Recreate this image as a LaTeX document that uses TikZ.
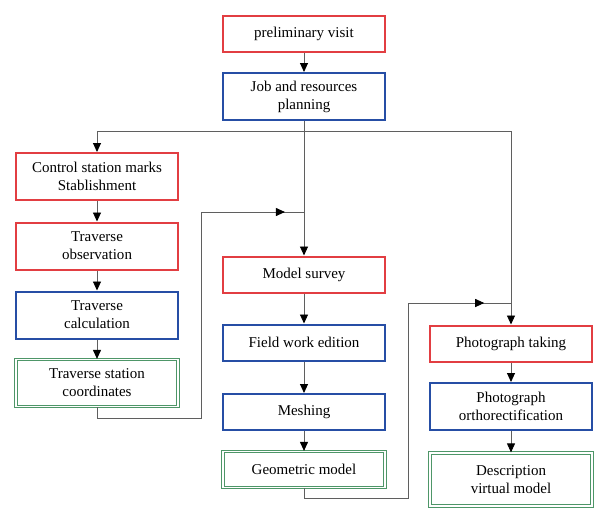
\documentclass[tikz,border=0pt]{standalone}
\usepackage{fontspec}
\setmainfont{Liberation Serif}
\usetikzlibrary{arrows.meta, positioning, decorations.markings}

\definecolor{boxred}{RGB}{226,62,66}
\definecolor{boxblue}{RGB}{38,78,165}
\definecolor{boxgreen}{RGB}{78,150,104}
\definecolor{linegray}{RGB}{95,95,95}

\begin{document}
\begin{tikzpicture}[x=1pt, y=-1pt]
	\tikzstyle{task} = [rectangle, minimum width=162pt, minimum height=36pt, 
	align=center, inner sep=2pt, fill=white, font=\fontsize{15}{18}\selectfont]
	\tikzstyle{tall} = [minimum height=47pt]
	\tikzstyle{start} = [task, draw=boxred, line width=2pt]
	\tikzstyle{work} = [task, draw=boxblue, line width=2pt]
	\tikzstyle{result} = [task, draw=boxgreen, line width=1.2pt, double=white, 
	double distance=1.5pt]
	\tikzstyle{arrow} = [draw=linegray, line width=0.9pt, 
	-{Triangle[length=9pt, width=8pt, color=black]}]
	\tikzstyle{midarrow} = [draw=linegray, line width=0.9pt, postaction={decorate}, 
	decoration={markings, mark=at position #1 with 
	{\arrow{Triangle[length=9pt, width=8pt, color=black]}}}]
	\useasboundingbox (0,0) rectangle (594,507);
	% top
	\node (visit) [start] at (304,34) {preliminary visit};
	\node (planning) [work, tall] at (304,96.5) {Job and resources\\planning};
	% left column
	\node (marks) [start, tall] at (97,176.5) {Control station marks\\Stablishment};
	\node (observation) [start, tall] at (97,246) {Traverse\\observation};
	\node (calculation) [work, tall] at (97,315) {Traverse\\calculation};
	\node (coordinates) [result, tall] at (97,383) {Traverse station\\coordinates};
	% middle column
	\node (survey) [start] at (304,274.5) {Model survey};
	\node (edition) [work] at (304,342.5) {Field work edition};
	\node (meshing) [work] at (304,412) {Meshing};
	\node (geometric) [result] at (304,469.5) {Geometric model};
	% right column
	\node (taking) [start] at (511,343.5) {Photograph taking};
	\node (ortho) [work, tall] at (511,406.5) {Photograph\\orthorectification};
	\node (virtual) [result, minimum height=53pt] at (511,479.5) {Description\\virtual model};
	% connectors
	\coordinate (split) at (304,131);
	\coordinate (join1) at (304,212);
	\coordinate (join2) at (511,303);
	\coordinate (bend1) at (201,418);
	\coordinate (bend2) at (408,498);
	\draw [arrow] (visit) -- (planning);
	\draw [arrow] (planning) -- (survey);
	\draw [arrow] (split) -| (marks);
	\draw [arrow] (split) -| (taking);
	\draw [arrow] (marks) -- (observation);
	\draw [arrow] (observation) -- (calculation);
	\draw [arrow] (calculation) -- (coordinates);
	\draw [arrow] (survey) -- (edition);
	\draw [arrow] (edition) -- (meshing);
	\draw [arrow] (meshing) -- (geometric);
	\draw [arrow] (taking) -- (ortho);
	\draw [arrow] (ortho) -- (virtual);
	\draw [midarrow=0.955] (coordinates) |- (bend1) |- (join1);
	\draw [midarrow=0.935] (geometric) |- (bend2) |- (join2);
\end{tikzpicture}
\end{document}
